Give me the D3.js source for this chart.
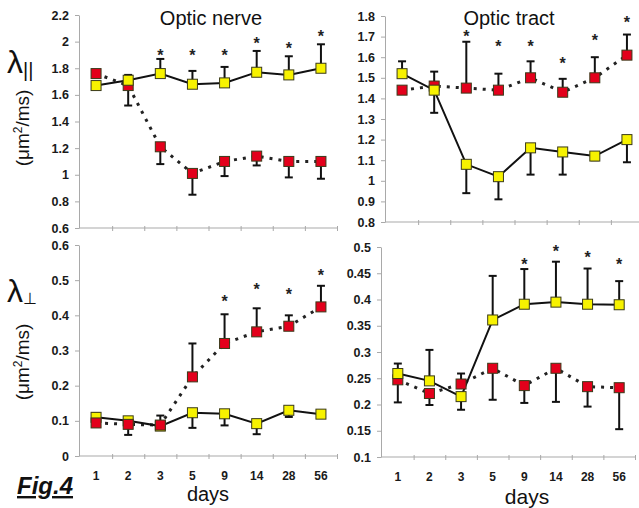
<!DOCTYPE html>
<html>
<head>
<meta charset="utf-8">
<script src="https://cdn.jsdelivr.net/npm/d3@7"></script>
<style>
  html, body { margin: 0; padding: 0; background: #fff; }
  svg { display: block; font-family: "Liberation Sans", Arial, sans-serif; }
</style>
</head>
<body>
<svg id="chart" width="639" height="508"></svg>
<script>
// ---------- DATA ----------
const days = ["1", "2", "3", "5", "9", "14", "28", "56"];

// Optic nerve, lambda parallel
const nerveParYellow    = [1.67, 1.71, 1.76, 1.68, 1.69, 1.77, 1.75, 1.80];
const nerveParYellowErr = [null, 1.75, 1.87, 1.78, 1.81, 1.93, 1.89, 1.98];
const nerveParRed       = [1.76, 1.67, 1.21, 1.01, 1.10, 1.14, 1.10, 1.10];
const nerveParRedErr    = [null, 1.52, 1.08, 0.85, 0.99, 1.07, 0.98, 0.97];
const nerveParStars     = [null, null, 1.93, 1.93, 1.93, 2.02, 1.98, 2.07];
const nerveParTicks     = [0.6, 0.8, 1.0, 1.2, 1.4, 1.6, 1.8, 2.0, 2.2];

// Optic tract, lambda parallel
const tractParYellow    = [1.52, 1.44, 1.08, 1.02, 1.16, 1.14, 1.12, 1.20];
const tractParYellowErr = [1.58, 1.33, 0.94, 0.91, 1.03, 1.03, 1.10, 1.09];
const tractParRed       = [1.44, 1.46, 1.45, 1.44, 1.50, 1.43, 1.50, 1.61];
const tractParRedErr    = [null, 1.53, 1.675, 1.52, 1.58, 1.495, 1.60, 1.71];
const tractParStars     = [null, null, 1.72, 1.67, 1.67, 1.59, 1.70, 1.79];
const tractParTicks     = [0.8, 0.9, 1.0, 1.1, 1.2, 1.3, 1.4, 1.5, 1.6, 1.7, 1.8];

// Optic nerve, lambda perpendicular
const nervePerpYellow    = [0.110, 0.100, 0.085, 0.123, 0.120, 0.092, 0.130, 0.119];
const nervePerpYellowErr = [0.122, null, null, 0.080, 0.087, 0.062, 0.111, 0.110];
const nervePerpRed       = [0.094, 0.090, 0.088, 0.225, 0.320, 0.353, 0.369, 0.424];
const nervePerpRedErr    = [null, 0.060, 0.115, 0.320, 0.403, 0.420, 0.400, 0.484];
const nervePerpStars     = [null, null, null, null, 0.450, 0.486, 0.470, 0.524];
const nervePerpTicks     = [0, 0.1, 0.2, 0.3, 0.4, 0.5, 0.6];

// Optic tract, lambda perpendicular
const tractPerpYellow    = [0.259, 0.245, 0.215, 0.361, 0.391, 0.395, 0.391, 0.390];
const tractPerpYellowErr = [0.278, 0.304, 0.190, 0.445, 0.458, 0.472, 0.459, 0.435];
const tractPerpRed       = [0.247, 0.221, 0.239, 0.269, 0.236, 0.269, 0.234, 0.232];
const tractPerpRedErr    = [0.204, 0.199, 0.259, 0.209, 0.203, 0.205, 0.196, 0.153];
const tractPerpStars     = [null, null, null, null, 0.475, 0.499, 0.488, 0.474];
const tractPerpTicks     = [0.1, 0.15, 0.2, 0.25, 0.3, 0.35, 0.4, 0.45, 0.5];

// ---------- LAYOUT ----------
const panels = [
  { yellow: nerveParYellow, yellowErr: nerveParYellowErr, red: nerveParRed, redErr: nerveParRedErr,
    stars: nerveParStars, ticks: nerveParTicks, xr: [80, 337], yr: [228, 15],
    title: "Optic nerve", titleX: 211, xLabels: false, redOnTop: false },
  { yellow: tractParYellow, yellowErr: tractParYellowErr, red: tractParRed, redErr: tractParRedErr,
    stars: tractParStars, ticks: tractParTicks, xr: [386, 643], yr: [222, 16],
    title: "Optic tract", titleX: 509, xLabels: false, redOnTop: false },
  { yellow: nervePerpYellow, yellowErr: nervePerpYellowErr, red: nervePerpRed, redErr: nervePerpRedErr,
    stars: nervePerpStars, ticks: nervePerpTicks, xr: [80, 337], yr: [456, 245],
    xLabels: true, daysX: 208, daysY: 501, daysSize: 20, redOnTop: true },
  { yellow: tractPerpYellow, yellowErr: tractPerpYellowErr, red: tractPerpRed, redErr: tractPerpRedErr,
    stars: tractPerpStars, ticks: tractPerpTicks, xr: [382, 635], yr: [457, 247],
    xLabels: true, daysX: 527, daysY: 504, daysSize: 21, redOnTop: false }
];

const svg = d3.select("#chart");
const AXIS = "#a9a9a9";
const YELLOW = "#f7f200";
const RED = "#e3001b";
const fmt = d => String(+d.toFixed(2));

panels.forEach(p => {
  const g = svg.append("g");
  const x = d3.scaleBand().domain(days).range(p.xr).padding(0);
  const y = d3.scaleLinear().domain(d3.extent(p.ticks)).range(p.yr);
  const cx = d => x(d) + x.bandwidth() / 2;

  // y axis
  const ya = g.append("g").attr("transform", `translate(${p.xr[0] - 1},0)`)
    .call(d3.axisLeft(y).tickValues(p.ticks).tickFormat(fmt).tickSizeInner(4).tickSizeOuter(0).tickPadding(6));
  ya.select(".domain").attr("stroke", AXIS);
  ya.selectAll(".tick line").attr("stroke", AXIS);
  ya.selectAll(".tick text").attr("fill", "#1a1a1a").style("font-size", "12.5px").style("font-weight", "bold")
    .style("font-family", "'Liberation Sans', Arial, sans-serif");

  // x axis line with boundary ticks
  const y0 = p.yr[0];
  const bnd = d3.scaleLinear().domain([0, days.length]).range(p.xr);
  const xa = g.append("g").attr("transform", `translate(0,${y0})`)
    .call(d3.axisBottom(bnd).tickValues(d3.range(1, days.length + 1)).tickFormat("").tickSizeInner(3).tickSizeOuter(0));
  xa.select(".domain").attr("stroke", AXIS).attr("d", `M${p.xr[0] - 1},0H${p.xr[1]}`);
  xa.selectAll(".tick line").attr("stroke", AXIS).attr("y1", -2);

  if (p.xLabels) {
    const xl = g.append("g").attr("transform", `translate(0,${y0})`)
      .call(d3.axisBottom(x).tickSize(0).tickPadding(15));
    xl.select(".domain").remove();
    xl.selectAll(".tick text").attr("fill", "#1a1a1a").style("font-size", "12px").style("font-weight", "bold")
      .style("font-family", "'Liberation Sans', Arial, sans-serif");
    g.append("text").attr("x", p.daysX).attr("y", p.daysY).attr("text-anchor", "middle")
      .style("font-size", p.daysSize + "px").attr("fill", "#111").text("days");
  }
  if (p.title) {
    g.append("text").attr("x", p.titleX).attr("y", 25).attr("text-anchor", "middle")
      .style("font-size", "20px").attr("fill", "#111").text(p.title);
  }

  const solid = d3.line().x((d, i) => cx(days[i])).y(d => y(d));

  // error bars
  const errs = (vals, errv) => {
    vals.forEach((v, i) => {
      const e = errv[i];
      if (e == null) return;
      const X = cx(days[i]);
      g.append("line").attr("x1", X).attr("x2", X).attr("y1", y(v)).attr("y2", y(e))
        .attr("stroke", "#111").attr("stroke-width", 2);
      g.append("line").attr("x1", X - 4).attr("x2", X + 4).attr("y1", y(e)).attr("y2", y(e))
        .attr("stroke", "#111").attr("stroke-width", 2);
    });
  };
  errs(p.red, p.redErr);
  errs(p.yellow, p.yellowErr);

  // lines
  g.append("path").datum(p.red).attr("d", solid).attr("fill", "none")
    .attr("stroke", "#222").attr("stroke-width", 3).attr("stroke-dasharray", "3,6");
  g.append("path").datum(p.yellow).attr("d", solid).attr("fill", "none")
    .attr("stroke", "#111").attr("stroke-width", 2);

  const marks = (vals, fill) => {
    g.selectAll(null).data(vals).enter().append("rect")
      .attr("x", (d, i) => cx(days[i]) - 5).attr("y", d => y(d) - 5)
      .attr("width", 10).attr("height", 10)
      .attr("fill", fill).attr("stroke", "#3a3a1a").attr("stroke-width", 1);
  };
  if (p.redOnTop) { marks(p.yellow, YELLOW); marks(p.red, RED); }
  else { marks(p.red, RED); marks(p.yellow, YELLOW); }

  // significance stars
  p.stars.forEach((s, i) => {
    if (s == null) return;
    g.append("text").attr("x", cx(days[i])).attr("y", y(s)).attr("dy", "0.6em")
      .attr("text-anchor", "middle").style("font-size", "16px").style("font-weight", "bold")
      .attr("fill", "#222").text("*");
  });
});

// y-axis titles
const yTitle = (cy, lamY, sub, subSize, subDy) => {
  const t = svg.append("text").attr("x", 7).attr("y", lamY).attr("fill", "#111");
  t.append("tspan").style("font-size", "32px").text("λ");
  t.append("tspan").style("font-size", subSize + "px").attr("dy", subDy).text(sub);
  svg.append("text").attr("transform", `translate(29,${cy}) rotate(-90)`).attr("text-anchor", "middle")
    .style("font-size", "19px").attr("fill", "#111").html("(μm<tspan dy='-7' font-size='12px'>2</tspan><tspan dy='7'>/ms)</tspan>");
};
yTitle(128, 73, "||", 20, 4);
yTitle(362, 302, "⊥", 16, 2);

// figure label
svg.append("text").attr("x", 17).attr("y", 494).style("font-size", "24px").style("font-weight", "bold")
  .style("font-style", "italic").style("text-decoration", "underline").attr("fill", "#111").text("Fig.4");
</script>
</body>
</html>
